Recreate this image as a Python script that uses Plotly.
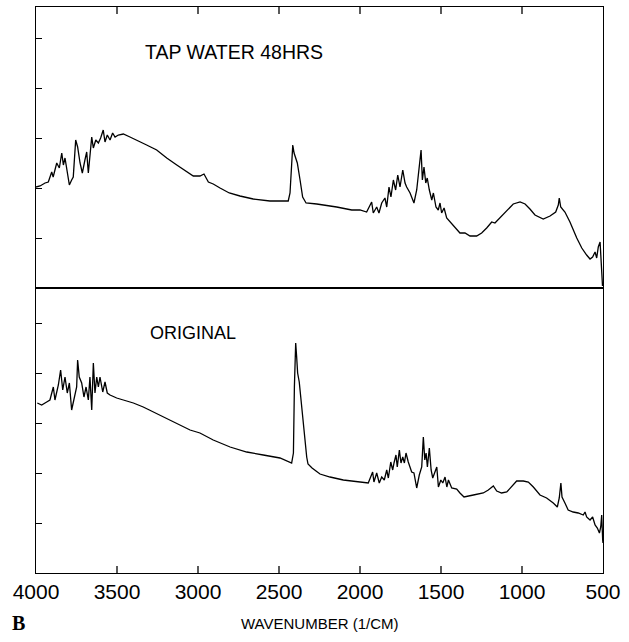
import plotly.graph_objects as go

# ---- data (wavenumber in 1/cm, intensity in arbitrary units) ----
tap_wn = [4000, 3975, 3944, 3924, 3903, 3894, 3872, 3856, 3841, 3831, 3821, 3807, 3794, 3780, 3770,
          3755, 3743, 3728, 3714, 3698, 3687, 3677, 3667, 3656, 3646, 3631, 3615, 3601, 3585, 3574,
          3560, 3543, 3527, 3512, 3492, 3461, 3420, 3378, 3317, 3255, 3193, 3131, 3070, 3029, 2988,
          2963, 2936, 2906, 2864, 2807, 2741, 2659, 2556, 2443, 2432, 2426, 2415, 2407, 2399, 2387,
          2370, 2354, 2333, 2267, 2144, 2051, 2000, 1959, 1928, 1918, 1897, 1883, 1866, 1846, 1835,
          1821, 1809, 1794, 1780, 1767, 1753, 1736, 1722, 1712, 1691, 1667, 1650, 1640, 1630, 1623,
          1615, 1605, 1594, 1585, 1572, 1557, 1547, 1531, 1517, 1506, 1496, 1481, 1465, 1444, 1424,
          1403, 1383, 1352, 1321, 1280, 1249, 1218, 1187, 1167, 1136, 1094, 1054, 1012, 981, 951,
          920, 869, 827, 792, 776, 770, 761, 735, 704, 662, 631, 601, 580, 564, 549,
          539, 529, 518, 512, 508, 503]
tap_val = [101, 102, 105, 106, 116, 111, 125, 120, 135, 123, 130, 115, 103, 108, 111,
           148, 141, 125, 115, 128, 136, 115, 131, 151, 140, 148, 145, 150, 158, 146,
           153, 148, 155, 151, 153, 154, 151, 148, 143, 138, 130, 123, 116, 112, 112,
           114, 106, 104, 100, 95, 92, 89, 87, 87, 95, 118, 143, 135, 130, 125,
           108, 91, 85, 84, 81, 78, 78, 76, 86, 75, 81, 75, 85, 90, 81,
           101, 91, 108, 98, 113, 101, 118, 105, 101, 95, 85, 98, 115, 125, 138,
           108, 121, 105, 110, 98, 88, 95, 81, 78, 85, 75, 80, 70, 66, 63,
           58, 55, 55, 52, 52, 55, 60, 66, 65, 70, 77, 84, 86, 84, 79,
           73, 69, 72, 76, 83, 90, 81, 76, 66, 50, 40, 33, 29, 31, 36,
           30, 41, 46, 25, 10, 2]

orig_wn = [3992, 3965, 3934, 3914, 3893, 3883, 3862, 3848, 3835, 3821, 3807, 3794, 3780, 3765, 3749,
           3743, 3733, 3718, 3704, 3691, 3677, 3667, 3656, 3646, 3636, 3625, 3615, 3605, 3588, 3574,
           3560, 3543, 3502, 3461, 3399, 3338, 3276, 3214, 3131, 3049, 2988, 2906, 2802, 2699, 2597,
           2494, 2422, 2411, 2405, 2397, 2391, 2385, 2375, 2360, 2344, 2329, 2321, 2296, 2247, 2185,
           2103, 2041, 1980, 1949, 1922, 1914, 1897, 1881, 1866, 1850, 1835, 1825, 1810, 1798, 1790,
           1778, 1770, 1757, 1747, 1736, 1726, 1716, 1702, 1691, 1681, 1667, 1650, 1634, 1619, 1609,
           1600, 1592, 1584, 1572, 1561, 1551, 1537, 1526, 1516, 1501, 1489, 1475, 1464, 1454, 1434,
           1403, 1383, 1358, 1300, 1239, 1208, 1177, 1156, 1126, 1094, 1064, 1033, 992, 961, 930,
           889, 848, 807, 782, 770, 760, 753, 735, 715, 684, 653, 622, 611, 601, 580,
           564, 549, 535, 522, 514, 508, 502, 500]
orig_val = [170, 168, 171, 173, 186, 173, 188, 203, 183, 196, 180, 190, 163, 176, 186,
            213, 196, 190, 176, 186, 173, 196, 163, 210, 180, 196, 186, 196, 181, 191,
            180, 178, 175, 173, 170, 166, 161, 156, 149, 143, 140, 133, 126, 121, 118,
            115, 110, 120, 186, 230, 216, 200, 191, 166, 136, 116, 109, 105, 99, 96,
            93, 92, 91, 90, 101, 91, 100, 90, 96, 93, 103, 95, 111, 103, 110,
            118, 106, 123, 110, 116, 110, 120, 111, 106, 101, 100, 85, 98, 106, 136,
            113, 120, 106, 125, 103, 95, 101, 106, 86, 93, 90, 96, 86, 93, 85,
            84, 80, 76, 78, 80, 83, 87, 82, 80, 81, 86, 92, 92, 91, 86,
            78, 75, 70, 66, 75, 90, 76, 70, 63, 61, 60, 58, 61, 56, 53,
            56, 48, 45, 40, 46, 58, 33, 30]

x_ticks = [4000, 3500, 3000, 2500, 2000, 1500, 1000, 500]
x_tick_text = ["4000", "3500", "3000", "2500", "2000", "1500", "1000", "500"]
panel_labels = ["TAP WATER 48HRS", "ORIGINAL"]
x_title = "WAVENUMBER (1/CM)"

W, H = 629, 642
ML, MR, MT, MB = 36, 26, 7, 69
PW, PH = W - ML - MR, H - MT - MB
split = 285 / PH


def px_to_paper(xp, yp):
    return (xp - ML) / PW, (H - MB - yp) / PH


fig = go.Figure()
fig.add_trace(go.Scatter(x=tap_wn, y=tap_val, mode="lines", xaxis="x2", yaxis="y2",
                         line=dict(color="black", width=1.3), showlegend=False, hoverinfo="skip"))
fig.add_trace(go.Scatter(x=orig_wn, y=orig_val, mode="lines", xaxis="x", yaxis="y",
                         line=dict(color="black", width=1.3), showlegend=False, hoverinfo="skip"))

axis_common = dict(showgrid=False, zeroline=False, showline=True, linecolor="black", linewidth=1.4,
                   mirror=True, tickcolor="black", tickwidth=1.3)

# small inward tick marks on the outer horizontal borders (drawn through the x scale)
tick_len_bottom = 7 / 285
tick_len_top = 7 / 281
shapes = []
for t in x_ticks[1:-1]:
    shapes.append(dict(type="line", xref="x", yref="y domain", x0=t, x1=t, y0=0, y1=tick_len_bottom,
                       line=dict(color="black", width=1.3)))
    shapes.append(dict(type="line", xref="x2", yref="y2 domain", x0=t, x1=t, y0=1, y1=1 - tick_len_top,
                       line=dict(color="black", width=1.3)))

wx, wy = px_to_paper(320, 623)
bx, by = px_to_paper(10, 623)

fig.update_layout(
    width=W, height=H,
    margin=dict(l=ML, r=MR, t=MT, b=MB),
    paper_bgcolor="white", plot_bgcolor="white",
    font=dict(family="Liberation Sans, Arial, sans-serif", color="black"),
    xaxis=dict(**axis_common, range=[4000, 500], domain=[0, 1], anchor="y",
               tickmode="array", tickvals=x_ticks, ticktext=x_tick_text,
               ticks="", ticklen=0,
               tickfont=dict(size=21, family="Liberation Sans, Arial, sans-serif")),
    yaxis=dict(**axis_common, range=[0, 285], domain=[0, split], anchor="x",
               ticks="inside", ticklen=6, showticklabels=False, dtick=50),
    xaxis2=dict(**axis_common, range=[4000, 500], domain=[0, 1], anchor="y2", side="top",
                tickmode="array", tickvals=x_ticks, ticks="", showticklabels=False),
    yaxis2=dict(**axis_common, range=[0, 281], domain=[split, 1], anchor="x2",
                ticks="inside", ticklen=6, showticklabels=False, dtick=50),
    shapes=shapes,
    annotations=[
        dict(text=panel_labels[0], x=3340, y=236, xref="x2", yref="y2", xanchor="left",
             yanchor="middle", showarrow=False, font=dict(size=19.5)),
        dict(text=panel_labels[1], x=3309, y=240, xref="x", yref="y", xanchor="left",
             yanchor="middle", showarrow=False, font=dict(size=18)),
        dict(text=x_title, x=wx, y=wy, xref="paper", yref="paper",
             xanchor="center", yanchor="middle", showarrow=False,
             font=dict(size=15)),
        dict(text="<b>B</b>", x=bx, y=by, xref="paper", yref="paper",
             xanchor="left", yanchor="middle", showarrow=False,
             font=dict(size=20, family="Liberation Serif, Times New Roman, serif")),
    ],
)

fig.write_html("out.html")
